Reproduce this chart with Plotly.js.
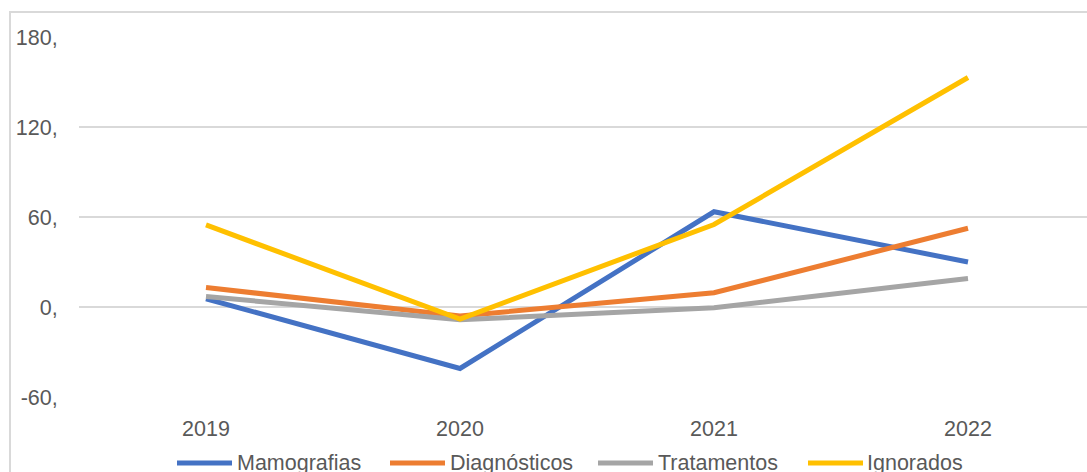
<!DOCTYPE html>
<html>
<head>
<meta charset="utf-8">
<script src="https://cdn.plot.ly/plotly-3.0.1.min.js"></script>
<style>
  html, body { margin: 0; padding: 0; background: #ffffff; }
  #chart { width: 1087px; height: 472px; }
</style>
</head>
<body>
<div id="chart"></div>
<script>
// ---- data ----
const years = ["2019", "2020", "2021", "2022"];
const seriesNames = ["Mamografias", "Diagnósticos", "Tratamentos", "Ignorados"];
const mamografias = [5.5, -41, 63.5, 30];
const diagnosticos = [13, -6, 9.5, 52.5];
const tratamentos = [7, -8.5, -0.5, 19];
const ignorados = [54.7, -8, 55, 153];
const yTicks = [-60, 0, 60, 120, 180];
const colors = ["#4472C4", "#ED7D31", "#A5A5A5", "#FFC000"];

const allValues = [mamografias, diagnosticos, tratamentos, ignorados];

// ---- geometry (pixels) ----
const W = 1087, H = 472;
const plotL = 79, plotT = 37, plotB = 397;
const plotW = W - plotL, plotH = plotB - plotT;
const px2x = p => (p - plotL) / plotW;
const px2y = p => (plotB - p) / plotH;
const FONT = "Liberation Sans, Arial, sans-serif";
const FS = 21.5;
const TXT = "#595959";

const traces = allValues.map((vals, i) => ({
  type: "scatter",
  mode: "lines",
  x: years,
  y: vals,
  name: seriesNames[i],
  line: { color: colors[i], width: 5 },
  showlegend: false,
  hoverinfo: "x+y+name"
}));

// custom legend (line sample + label), positions in pixels
const legendItems = [
  { x0: 177, x1: 232, tx: 235 },
  { x0: 390, x1: 445, tx: 448 },
  { x0: 598, x1: 653, tx: 656 },
  { x0: 808, x1: 863, tx: 865 }
];
const legendY = 463;

const shapes = [
  {
    type: "rect", xref: "paper", yref: "paper",
    x0: px2x(10), x1: px2x(W + 20), y0: px2y(H + 20), y1: px2y(12),
    line: { color: "#d9d9d9", width: 2 }, fillcolor: "rgba(0,0,0,0)", layer: "below"
  }
];
const annotations = [];
legendItems.forEach((it, i) => {
  shapes.push({
    type: "line", xref: "paper", yref: "paper",
    x0: px2x(it.x0), x1: px2x(it.x1), y0: px2y(legendY), y1: px2y(legendY),
    line: { color: colors[i], width: 5 }
  });
  annotations.push({
    xref: "paper", yref: "paper",
    x: px2x(it.tx), y: px2y(legendY),
    xanchor: "left", yanchor: "middle",
    text: seriesNames[i], showarrow: false,
    font: { family: FONT, size: FS, color: TXT }
  });
});

const layout = {
  width: W, height: H,
  margin: { l: plotL, r: 0, t: plotT, b: H - plotB, pad: 0 },
  paper_bgcolor: "#ffffff",
  plot_bgcolor: "#ffffff",
  showlegend: false,
  font: { family: FONT, size: FS, color: TXT },
  xaxis: {
    type: "category",
    range: [-0.5, -0.5 + plotW / 254],
    showgrid: false, zeroline: false, showline: false,
    ticks: "outside", ticklen: 12, tickcolor: "rgba(0,0,0,0)",
    tickfont: { family: FONT, size: FS, color: TXT },
    fixedrange: true
  },
  yaxis: {
    range: [-60, 180],
    tickvals: yTicks,
    ticktext: yTicks.map(v => v + ","),
    showgrid: true, gridcolor: "#d9d9d9", gridwidth: 2,
    zeroline: false, showline: false,
    ticks: "outside", ticklen: 16, tickcolor: "rgba(0,0,0,0)",
    tickfont: { family: FONT, size: FS, color: TXT },
    fixedrange: true
  },
  shapes: shapes,
  annotations: annotations
};

Plotly.newPlot("chart", traces, layout, { displayModeBar: false, staticPlot: true });
</script>
</body>
</html>
